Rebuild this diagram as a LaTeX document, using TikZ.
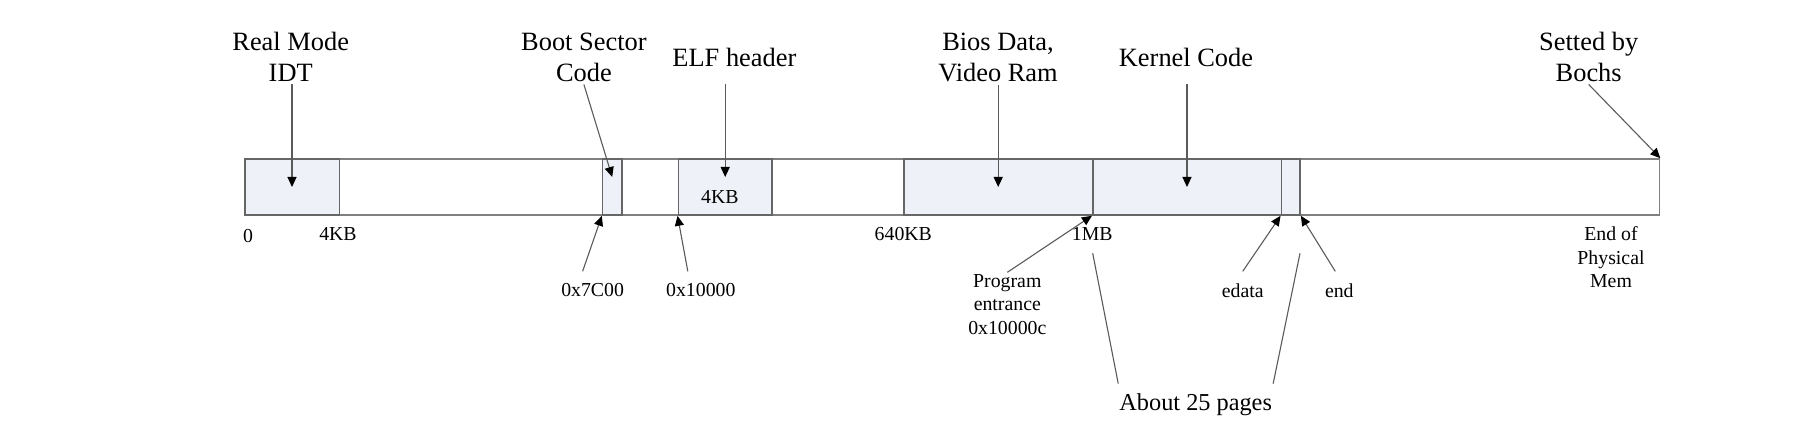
\documentclass[tikz,border=0pt]{standalone}
\usepackage{fontspec}
\setmainfont{Liberation Serif}
\usetikzlibrary{arrows.meta}
\definecolor{segfill}{HTML}{EEF1F7}
\definecolor{segline}{HTML}{808080}
\definecolor{wire}   {HTML}{5A5A5A}
\tikzset{
  membar/.style  ={draw=segline, fill=white, line width=1.6pt,
                   minimum height=56pt, inner sep=0pt},
  segbox/.style  ={draw=segline!80!black, fill=segfill, line width=1.6pt,
                   minimum width=#1, minimum height=56pt, inner sep=0pt},
  biglbl/.style  ={align=center, inner sep=2pt, anchor=base,
                   font=\fontsize{26.4}{31.3}\selectfont},
  smalllbl/.style={align=center, inner sep=2pt, anchor=base,
                   font=\fontsize{19.8}{23.4}\selectfont},
  pagelbl/.style ={inner xsep=1pt, inner ysep=10pt, anchor=base,
                   font=\fontsize{24.3}{29}\selectfont},
  memarr/.style  ={-{Triangle[length=10pt,width=9pt,color=black]}, line width=1.1pt, color=wire},
  memline/.style ={line width=1.1pt, color=wire},
}

\begin{document}
\begin{tikzpicture}[x=1pt,y=-1pt]
  \useasboundingbox (0,0) rectangle (1818,438);
  % memory bar and its regions
  \node[membar, minimum width=1414.8pt] (mem) at (952.1,187) {};
  \node[segbox=94.6pt]  (idt)  at (292.0,187) {};
  \node[segbox=19.1pt]  (boot) at (612.2,187) {};
  \node[segbox=93.7pt]  (elf)  at (725.2,187) {};
  \node[segbox=189pt]   (bios) at (998.2,187) {};
  \node[segbox=188.6pt] (kern) at (1187.0,187) {};
  \node[segbox=18.7pt]  (bss)  at (1290.7,187) {};
  \node[smalllbl] (elfsize) at (719.8,203.3) {4KB};

  % labels above (base = last line)
  \node[biglbl] (idtlbl)   at (290.7,82.0)  {Real Mode\\IDT};
  \node[biglbl] (bootlbl)  at (583.9,82.0)  {Boot Sector\\Code};
  \node[biglbl] (elflbl)   at (734.4,66.7)  {ELF header};
  \node[biglbl] (bioslbl)  at (998.0,82.0)  {Bios Data,\\Video Ram};
  \node[biglbl] (kernlbl)  at (1186.0,66.7) {Kernel Code};
  \node[biglbl] (bochslbl) at (1588.7,82.0) {Setted by\\Bochs};

  % addresses below
  \node[smalllbl] (a0)     at (248.0,242.7)  {0};
  \node[smalllbl] (a4k)    at (338.0,241.0)  {4KB};
  \node[smalllbl] (a640k)  at (903.3,241.0)  {640KB};
  \node[smalllbl] (a1m)    at (1092.3,241.0) {1MB};
  \node[smalllbl] (aend)   at (1611.0,287.5) {End of\\Physical\\Mem};
  \node[smalllbl] (a7c00)  at (592.6,296.7)  {0x7C00};
  \node[smalllbl] (a10000) at (700.8,296.7)  {0x10000};
  \node[smalllbl] (entry)  at (1007.3,334.3) {Program\\entrance\\0x10000c};
  \node[smalllbl] (edata)  at (1242.7,297.3) {edata};
  \node[smalllbl] (endlbl) at (1339.3,297.3) {end};
  \node[pagelbl]  (pages)  at (1195.7,410.7) {About 25 pages};

  % arrows
  \draw[memarr] (idt.center |- idtlbl.south) -- (idt.center);
  \draw[memarr] (bootlbl.south) -- ([yshift=10pt]boot.center);
  \draw[memarr] (elf.center |- idtlbl.south) -- ([yshift=10pt]elf.center);
  \draw[memarr] (bios.center |- bioslbl.south) -- (bios.center);
  \draw[memarr] (kern.center |- idtlbl.south) -- (kern.center);
  \draw[memarr] (bochslbl.south) -- (mem.north east);
  \draw[memarr] ([xshift=-10pt,yshift=10pt]a7c00.north) -- (boot.south west);
  \draw[memarr] ([xshift=-13pt,yshift=10pt]a10000.north) -- (elf.south west);
  \draw[memarr] (entry.north) -- (kern.south west);
  \draw[memarr] ([yshift=10pt]edata.north) -- (bss.south west);
  \draw[memarr] ([xshift=-4pt,yshift=10pt]endlbl.north) -- (bss.south east);

  % span of the kernel
  \coordinate (pgtopl) at (1092.7,253.3);
  \coordinate (pgtopr) at (1300.0,253.3);
  \draw[memline] (pages.north west) -- (pgtopl);
  \draw[memline] (pages.north east) -- (pgtopr);
\end{tikzpicture}
\end{document}
